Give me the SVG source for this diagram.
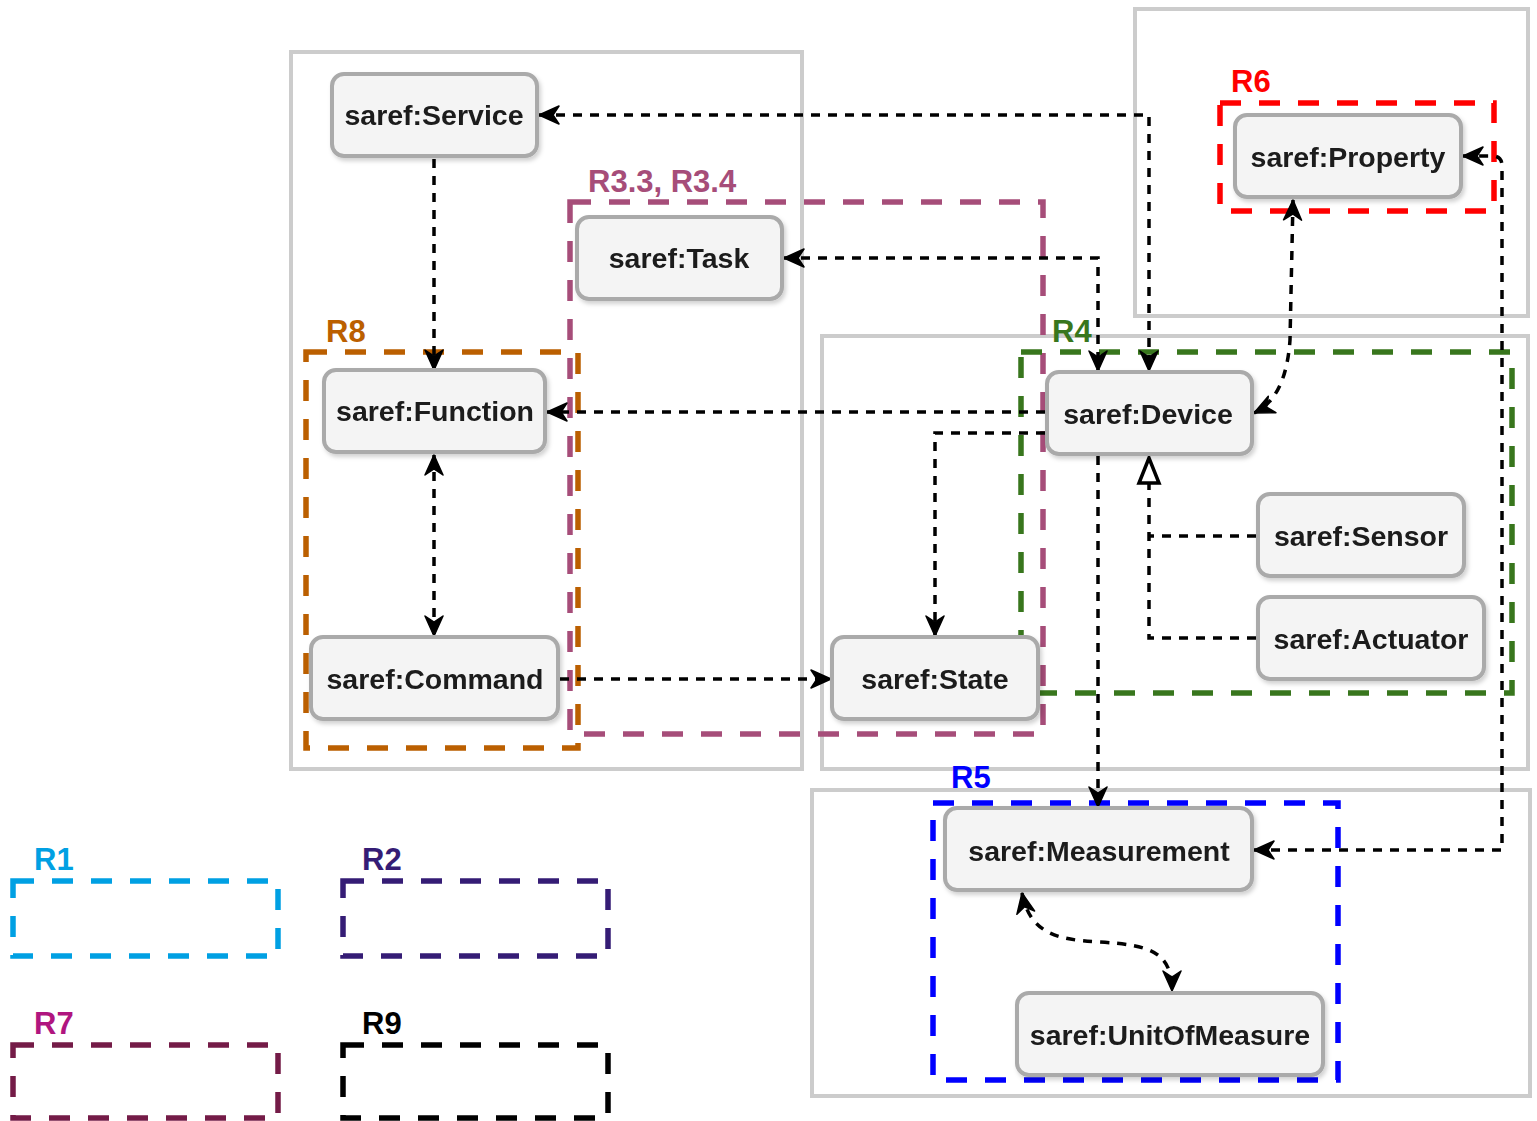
<svg xmlns="http://www.w3.org/2000/svg" width="1537" height="1121" viewBox="0 0 1537 1121">
  <defs>
    <style>
      .frame { fill: none; stroke: #cccccc; stroke-width: 4; }
      .node rect { fill: #f4f4f4; stroke: #aaaaaa; stroke-width: 4; }
      .node text { font-family: "Liberation Sans", Arial, sans-serif; font-weight: bold; font-size: 28.5px; fill: #1a1a1a; text-anchor: middle; }
      .region { fill: none; stroke-width: 5.5; stroke-dasharray: 21 18; }
      .rlabel { font-family: "Liberation Sans", Arial, sans-serif; font-weight: bold; font-size: 31px; }
      .edge { fill: none; stroke: #000000; stroke-width: 3.5; stroke-dasharray: 9 8; }
      .arr { marker-end: url(#arrow); }
      .both { marker-start: url(#arrow); marker-end: url(#arrow); }
    </style>
    <marker id="arrow" viewBox="0 0 22 22" refX="21" refY="11" markerWidth="22" markerHeight="22" markerUnits="userSpaceOnUse" orient="auto-start-reverse">
      <path d="M21,11 L1,2 L7,11 L1,20 Z" fill="#000000" stroke="#000000" stroke-width="1.5" stroke-linejoin="round"/>
    </marker>
    <marker id="hollow" viewBox="0 0 32 28" refX="30" refY="14" markerWidth="32" markerHeight="28" markerUnits="userSpaceOnUse" orient="auto">
      <path d="M29,14 L4,4 L4,24 Z" fill="#ffffff" stroke="#000000" stroke-width="3.5"/>
    </marker>
    <filter id="shadow" x="-10%" y="-10%" width="125%" height="135%">
      <feDropShadow dx="2" dy="3" stdDeviation="2" flood-color="#000000" flood-opacity="0.18"/>
    </filter>
  </defs>

  <!-- module frames -->
  <g id="frames">
    <rect class="frame" x="291" y="52" width="511" height="717"/>
    <rect class="frame" x="1135" y="9" width="393" height="307"/>
    <rect class="frame" x="822" y="336" width="706" height="433"/>
    <rect class="frame" x="812" y="790" width="718" height="306"/>
  </g>

  <!-- requirement regions -->
  <g id="regions">
    <rect class="region" x="306" y="352" width="272" height="396" stroke="#bb5f00"/>
    <text class="rlabel" x="326" y="342" fill="#bb5f00">R8</text>
    <rect class="region" x="570" y="202" width="473" height="532" stroke="#a64d79"/>
    <text class="rlabel" x="588" y="192" fill="#a64d79">R3.3, R3.4</text>
    <rect class="region" x="1220" y="103" width="274" height="108" stroke="#ff0000"/>
    <text class="rlabel" x="1231" y="92" fill="#ff0000">R6</text>
    <rect class="region" x="1021" y="352" width="491" height="341" stroke="#38761d"/>
    <text class="rlabel" x="1052" y="342" fill="#38761d">R4</text>
    <rect class="region" x="933" y="803" width="405" height="277" stroke="#0000ff"/>
    <text class="rlabel" x="951" y="788" fill="#0000ff">R5</text>
  </g>

  <!-- legend regions -->
  <g id="legend">
    <rect class="region" x="13" y="881" width="265" height="75" stroke="#00a0e3"/>
    <text class="rlabel" x="34" y="870" fill="#00a0e3">R1</text>
    <rect class="region" x="343" y="881" width="265" height="75" stroke="#351c75"/>
    <text class="rlabel" x="362" y="870" fill="#351c75">R2</text>
    <rect class="region" x="13" y="1045" width="265" height="73" stroke="#741b47"/>
    <text class="rlabel" x="34" y="1034" fill="#b0157f">R7</text>
    <rect class="region" x="343" y="1045" width="265" height="73" stroke="#000000"/>
    <text class="rlabel" x="362" y="1034" fill="#000000">R9</text>
  </g>

  <!-- relations -->
  <g id="connectors">
    <path class="edge both" d="M539,115 H1149 V371"/>
    <path class="edge both" d="M784,258 H1098 V371"/>
    <path class="edge arr" d="M434,159 V370"/>
    <path class="edge both" d="M434,455 V636"/>
    <path class="edge arr" d="M1045,412 H547"/>
    <path class="edge arr" d="M1045,433 H935 V636"/>
    <path class="edge arr" d="M560,679 H831"/>
    <path class="edge both" d="M1293,200 L1290,340 Q1286,398 1254,413"/>
    <path class="edge" d="M1256,536 H1149"/>
    <path class="edge" d="M1256,638 H1149 V457" marker-end="url(#hollow)"/>
    <path class="edge arr" d="M1098,456 V807"/>
    <path class="edge both" d="M1254,850 H1502 V166 Q1502,156 1492,156 H1463"/>
    <path class="edge both" d="M1022,893 C1030,935 1060,940 1100,942 C1150,945 1172,952 1172,991"/>
  </g>

  <!-- classes -->
  <g id="service" class="node" filter="url(#shadow)">
    <rect x="332" y="74" width="205" height="82" rx="12"/>
    <text x="434" y="125">saref:Service</text>
  </g>
  <g id="task" class="node" filter="url(#shadow)">
    <rect x="577" y="217" width="205" height="82" rx="12"/>
    <text x="679" y="268">saref:Task</text>
  </g>
  <g id="function" class="node" filter="url(#shadow)">
    <rect x="324" y="370" width="221" height="82" rx="12"/>
    <text x="435" y="421">saref:Function</text>
  </g>
  <g id="command" class="node" filter="url(#shadow)">
    <rect x="311" y="637" width="247" height="82" rx="12"/>
    <text x="435" y="689">saref:Command</text>
  </g>
  <g id="state" class="node" filter="url(#shadow)">
    <rect x="832" y="637" width="206" height="82" rx="12"/>
    <text x="935" y="689">saref:State</text>
  </g>
  <g id="device" class="node" filter="url(#shadow)">
    <rect x="1047" y="372" width="205" height="82" rx="12"/>
    <text x="1148" y="424">saref:Device</text>
  </g>
  <g id="sensor" class="node" filter="url(#shadow)">
    <rect x="1258" y="494" width="206" height="82" rx="12"/>
    <text x="1361" y="546">saref:Sensor</text>
  </g>
  <g id="actuator" class="node" filter="url(#shadow)">
    <rect x="1258" y="597" width="226" height="82" rx="12"/>
    <text x="1371" y="649">saref:Actuator</text>
  </g>
  <g id="property" class="node" filter="url(#shadow)">
    <rect x="1235" y="115" width="226" height="82" rx="12"/>
    <text x="1348" y="167">saref:Property</text>
  </g>
  <g id="measurement" class="node" filter="url(#shadow)">
    <rect x="945" y="808" width="307" height="82" rx="12"/>
    <text x="1099" y="861">saref:Measurement</text>
  </g>
  <g id="unitofmeasure" class="node" filter="url(#shadow)">
    <rect x="1017" y="993" width="306" height="82" rx="12"/>
    <text x="1170" y="1045">saref:UnitOfMeasure</text>
  </g>
</svg>
